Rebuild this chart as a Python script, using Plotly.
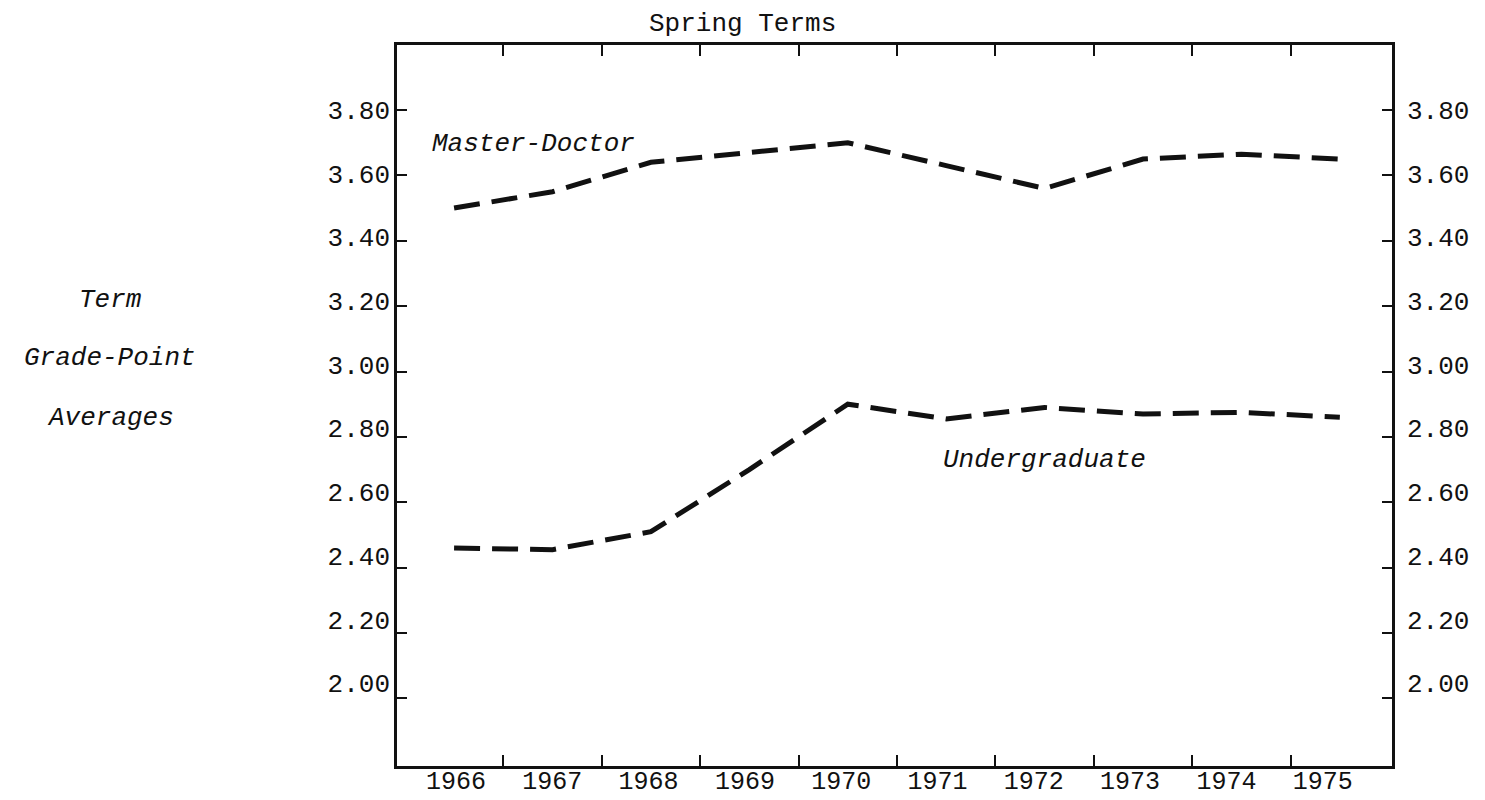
import plotly.graph_objects as go

# ---- data ----
years = [1966, 1967, 1968, 1969, 1970, 1971, 1972, 1973, 1974, 1975]
master_doctor = [3.50, 3.55, 3.64, 3.67, 3.70, 3.63, 3.56, 3.65, 3.665, 3.65]
undergraduate = [2.46, 2.455, 2.51, 2.70, 2.90, 2.855, 2.89, 2.87, 2.875, 2.86]
gpa_ticks = [2.00, 2.20, 2.40, 2.60, 2.80, 3.00, 3.20, 3.40, 3.60, 3.80]
gpa_tick_labels = ["2.00", "2.20", "2.40", "2.60", "2.80", "3.00", "3.20", "3.40", "3.60", "3.80"]
year_labels = [str(y) for y in years]
title_text = "Spring Terms"
y_title_lines = ["Term", "Grade-Point", "Averages"]

# ---- style ----
FONT = "Liberation Mono, Courier New, monospace"
INK = "#111111"
FS = 26
W, H = 1485, 800
L, R, T, B = 389, 101, 37, 42

half_year_ticks = [y + 0.5 for y in years[:-1]]

fig = go.Figure()

dash = "26px,12px"
fig.add_trace(go.Scatter(x=years, y=master_doctor, mode="lines",
                         line=dict(color=INK, width=5, dash=dash),
                         showlegend=False, hoverinfo="skip"))
fig.add_trace(go.Scatter(x=years, y=undergraduate, mode="lines",
                         line=dict(color=INK, width=5, dash=dash),
                         showlegend=False, hoverinfo="skip"))
# invisible anchors so the label axes are drawn
fig.add_trace(go.Scatter(x=[years[0]], y=[gpa_ticks[0]], xaxis="x2", yaxis="y2",
                         mode="markers", marker=dict(opacity=0), showlegend=False,
                         hoverinfo="skip"))
fig.add_trace(go.Scatter(x=[years[0]], y=[gpa_ticks[0]], xaxis="x", yaxis="y3",
                         mode="markers", marker=dict(opacity=0), showlegend=False,
                         hoverinfo="skip"))

axis_common = dict(showgrid=False, zeroline=False, color=INK, automargin=False)

fig.update_layout(
    width=W, height=H,
    margin=dict(l=L, r=R, t=T, b=B, autoexpand=False),
    paper_bgcolor="white", plot_bgcolor="white",
    font=dict(family=FONT, size=FS, color=INK),
    showlegend=False,
    xaxis=dict(range=[1965.42, 1975.53], tickvals=half_year_ticks, ticks="inside",
               ticklen=11, tickwidth=2, tickcolor=INK, showticklabels=False,
               showline=True, linewidth=2.5, linecolor=INK, mirror="ticks",
               **axis_common),
    yaxis=dict(range=[1.793, 3.999], tickvals=gpa_ticks, ticks="inside",
               ticklen=10, tickwidth=2, tickcolor=INK, showticklabels=False,
               showline=True, linewidth=2.5, linecolor=INK, mirror="ticks",
               **axis_common),
    xaxis2=dict(overlaying="x", anchor="y", side="bottom",
                range=[1965.387, 1975.72], tickvals=years, ticktext=year_labels,
                ticks="", showline=False, ticklabelstandoff=-3,
                tickfont=dict(family=FONT, size=25, color=INK), **axis_common),
    yaxis2=dict(overlaying="y", anchor="x", side="left",
                range=[1.740, 4.003], tickvals=gpa_ticks, ticktext=gpa_tick_labels,
                ticks="", showline=False, ticklabelstandoff=6,
                tickfont=dict(family=FONT, size=FS, color=INK), **axis_common),
    yaxis3=dict(overlaying="y", anchor="x", side="right",
                range=[1.740, 4.003], tickvals=gpa_ticks, ticktext=gpa_tick_labels,
                ticks="", showline=False, ticklabelstandoff=14,
                tickfont=dict(family=FONT, size=FS, color=INK), **axis_common),
)

ann = []
ann.append(dict(text=title_text, xref="paper", yref="paper", x=0.3477, y=1.029,
                xanchor="center", yanchor="middle", showarrow=False,
                font=dict(family=FONT, size=FS, color=INK)))
ann.append(dict(text="<i>Master-Doctor</i>", xref="x", yref="y", x=1966.81, y=3.696,
                xanchor="center", yanchor="middle", showarrow=False,
                font=dict(family=FONT, size=FS, color=INK)))
ann.append(dict(text="<i>Undergraduate</i>", xref="x", yref="y", x=1972.0, y=2.729,
                xanchor="center", yanchor="middle", showarrow=False,
                font=dict(family=FONT, size=FS, color=INK)))
for txt, yp in zip(y_title_lines, [0.646, 0.5655, 0.4823]):
    ann.append(dict(text=f"<i>{txt}</i>", xref="paper", yref="paper", x=-0.2884, y=yp,
                    xanchor="center", yanchor="middle", showarrow=False,
                    font=dict(family=FONT, size=FS, color=INK)))
fig.update_layout(annotations=ann)

fig.write_html("out.html")
